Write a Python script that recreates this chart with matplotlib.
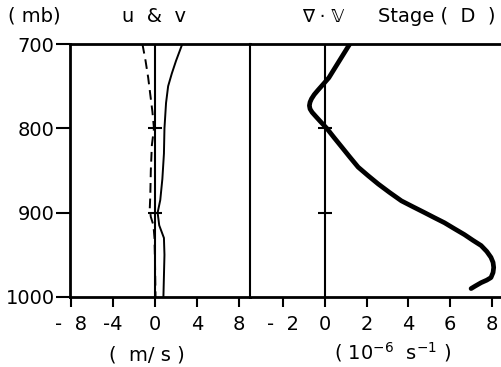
import matplotlib
matplotlib.use('Agg')
import matplotlib.pyplot as plt

# u (dashed) and v (solid) profiles, m/s
u_p = [700, 720, 740, 760, 780, 800, 820, 850, 880, 895, 905, 915, 930, 960, 1000]
u_val = [-1.2, -0.9, -0.65, -0.45, -0.25, -0.1, -0.3, -0.4, -0.45, -0.5, -0.4, -0.15, -0.05, 0.0, 0.05]
v_p = [700, 710, 720, 735, 750, 770, 800, 830, 860, 885, 900, 915, 930, 950, 975, 1000]
v_val = [2.6, 2.3, 2.0, 1.6, 1.25, 1.05, 0.9, 0.85, 0.7, 0.5, 0.25, 0.4, 0.85, 0.9, 0.85, 0.8]

# divergence profile, 1e-6 s^-1
div_p = [700, 710, 720, 730, 740, 748, 755, 760, 765, 769, 773, 777, 781, 786, 792, 800, 811, 822,
         834, 846, 856, 866, 876, 886, 893, 900, 906, 912, 919, 926, 933, 939, 946, 953, 959, 965,
         971, 977, 980, 983, 987, 990]
div_val = [1.2, 0.95, 0.7, 0.45, 0.2, -0.08, -0.33, -0.5, -0.63, -0.7, -0.73, -0.7, -0.6, -0.42, -0.2,
           0.1, 0.45, 0.81, 1.2, 1.6, 2.07, 2.56, 3.1, 3.67, 4.22, 4.78, 5.25, 5.73, 6.2, 6.68, 7.1,
           7.48, 7.75, 7.95, 8.05, 8.08, 8.05, 7.95, 7.75, 7.48, 7.2, 7.0]

p_ticks = [700, 800, 900, 1000]
uv_ticks = [-8, -4, 0, 4, 8]
uv_labels = ['-  8', '-4', '0', '4', '8']
div_ticks = [-2, 0, 2, 4, 6, 8]
div_labels = ['-  2', '0', '2', '4', '6', '8']
cross_p = [800, 900]

W, H = 501, 367
fig = plt.figure(figsize=(W / 100, H / 100), dpi=100)
plt.rcParams['font.family'] = ['DejaVu Sans']

top, bot = 44, 297
ax1 = fig.add_axes([70 / W, (H - bot) / H, 180 / W, (bot - top) / H])
ax2 = fig.add_axes([250 / W, (H - bot) / H, 251 / W, (bot - top) / H])

for ax in (ax1, ax2):
    ax.set_ylim(1000, 700)
    for s in ax.spines.values():
        s.set_linewidth(2)
    ax.tick_params(axis='x', direction='out', length=7, width=1.5, labelsize=14, pad=6)
ax2.spines['right'].set_visible(False)
ax2.spines['left'].set_linewidth(1.5)

# left panel
ax1.set_xlim(-8.1, 9.05)
ax1.set_yticks(p_ticks)
ax1.set_yticklabels([str(p) for p in p_ticks])
ax1.tick_params(axis='y', direction='out', length=10, width=1.5, labelsize=14, pad=1)
ax1.set_xticks(uv_ticks)
ax1.set_xticklabels(uv_labels)
ax1.axvline(0, color='black', lw=1.5)
ax1.plot([0] * len(cross_p), cross_p, marker='_', ms=10, mew=1.5, ls='none', color='black')
ax1.plot(u_val, u_p, color='black', lw=1.4, ls=(0, (5, 3)))
ax1.plot(v_val, v_p, color='black', lw=1.4)

# right panel
ax2.set_xlim(-3.57, 8.43)
ax2.set_yticks([])
ax2.set_xticks(div_ticks)
ax2.set_xticklabels(div_labels)
ax2.axvline(0, color='black', lw=1.5)
ax2.plot([0] * len(cross_p), cross_p, marker='_', ms=10, mew=1.5, ls='none', color='black')
ax2.plot(div_val, div_p, color='black', lw=3.4, solid_capstyle='round', solid_joinstyle='round')

fig.text(8 / W, 1 - 16 / H, '( mb)', fontsize=14, va='center', ha='left')
fig.text(154 / W, 1 - 17 / H, 'u  &  v', fontsize=14, va='center', ha='center')
fig.text(323 / W, 1 - 17 / H, '∇ · 𝕍', fontsize=13, va='center', ha='center')
fig.text(437 / W, 1 - 17 / H, 'Stage (  D  )', fontsize=14, va='center', ha='center')
fig.text(147 / W, 1 - 355 / H, '(  m/ s )', fontsize=14, va='center', ha='center')
fig.text(393 / W, 1 - 352 / H, '( 10$^{-6}$  s$^{-1}$ )', fontsize=14, va='center', ha='center')

fig.savefig('out.png', dpi=100)
